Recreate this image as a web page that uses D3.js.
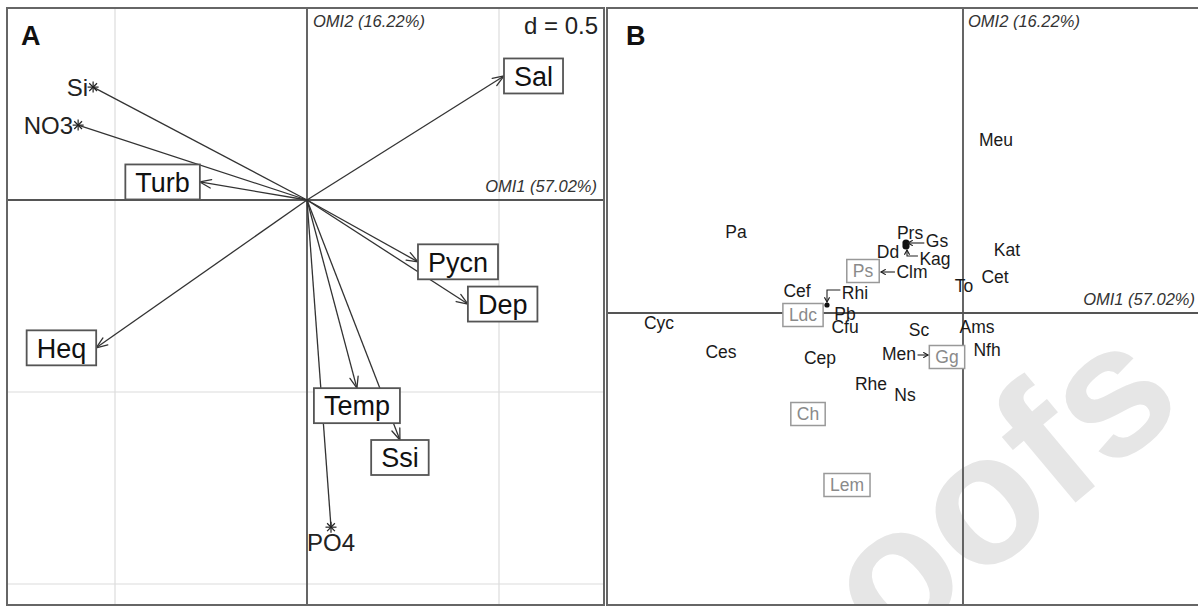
<!DOCTYPE html>
<html><head><meta charset="utf-8">
<script src="https://cdn.jsdelivr.net/npm/d3@7"></script>
<style>body{margin:0;background:#fff} svg{display:block;font-family:"Liberation Sans",Arial,sans-serif}</style>
</head><body><svg id="c" width="1198" height="606"></svg>
<script>
// ---------- Panel A data: environmental variable arrows (OMI1, OMI2) ----------
const envNames = ["Sal", "Turb", "Heq", "Pycn", "Dep", "Temp", "Ssi"];
const envX = [0.513, -0.279, -0.549, 0.289, 0.419, 0.130, 0.242];
const envY = [0.323, 0.047, -0.385, -0.161, -0.271, -0.490, -0.625];
// supplementary variables (star markers)
const supNames = ["Si", "NO3", "PO4"];
const supX = [-0.557, -0.596, 0.0625];
const supY = [0.294, 0.195, -0.852];
const gridStep = 0.5;
const axisLab1 = "OMI1 (57.02%)";
const axisLab2 = "OMI2 (16.22%)";

// ---------- Panel B data: species label positions ----------
const spNames = ["Meu","Pa","Prs","Gs","Dd","Kag","Clm","Cef","Rhi","Pb","Cfu","Sc","To","Ams","Men","Nfh","Cep","Rhe","Ns","Cyc","Ces","Kat","Cet"];
const spX = [0.33,-2.27,-0.53,-0.26,-0.75,-0.28,-0.51,-1.66,-1.08,-1.18,-1.18,-0.44,0.01,0.14,-0.64,0.24,-1.43,-0.92,-0.58,-3.04,-2.42,0.44,0.32];
const spY = [1.73,0.81,0.80,0.72,0.61,0.54,0.41,0.22,0.20,-0.01,-0.14,-0.17,0.27,-0.14,-0.41,-0.37,-0.45,-0.71,-0.82,-0.10,-0.39,0.63,0.36];
// grouped (grey boxed) labels
const grpNames = ["Ps","Ldc","Gg","Ch","Lem"];
const grpX = [-1.00,-1.60,-0.16,-1.55,-1.16];
const grpY = [0.42,-0.02,-0.44,-1.01,-1.72];
// points shown as dots
const dotX = [-0.57,-0.57,-1.36];
const dotY = [0.70,0.67,0.08];
const dotSize = [3.6,3.6,2.6];
// leader lines: from label to the point they refer to
const leadFrom = ["Gs","Kag","Clm","Rhi","Men"];
const leadToX = [-0.55,-0.56,-0.82,-1.36,-0.35];
const leadToY = [0.70,0.63,0.41,0.11,-0.42];
const leadKind = ["straight","elbow","straight","elbow","straight"];
const watermark = "oofs";

const svg = d3.select("#c");

// ---------- helper ----------
function arrowHead(g, x1, y1, x2, y2, len, ang, col, w) {
  const a = Math.atan2(y2 - y1, x2 - x1);
  [ang, -ang].forEach(s => {
    g.append("line").attr("x1", x2).attr("y1", y2)
      .attr("x2", x2 - len * Math.cos(a + s)).attr("y2", y2 - len * Math.sin(a + s))
      .attr("stroke", col).attr("stroke-width", w).attr("stroke-linecap","round");
  });
}

// ================= PANEL A =================
const A = {l: 7, t: 8, r: 604, b: 605};
const pxPerUnitA = 384;
const xA = d3.scaleLinear().domain([-(307 - A.l) / pxPerUnitA, (A.r - 307) / pxPerUnitA]).range([A.l, A.r]);
const yA = d3.scaleLinear().domain([(200 - A.t) / pxPerUnitA, -(A.b - 200) / pxPerUnitA]).range([A.t, A.b]);
const gA = svg.append("g");

// grid
const gxA = d3.range(-3, 3.01, gridStep).filter(v => v !== 0 && v > xA.domain()[0] && v < xA.domain()[1]);
const gyA = d3.range(-3, 3.01, gridStep).filter(v => v !== 0 && v < yA.domain()[0] && v > yA.domain()[1]);
gA.selectAll(".gx").data(gxA).join("line").attr("x1", d => xA(d)).attr("x2", d => xA(d))
  .attr("y1", A.t).attr("y2", A.b).attr("stroke", "#dcdcdc").attr("stroke-width", 1.2);
gA.selectAll(".gy").data(gyA).join("line").attr("y1", d => yA(d)).attr("y2", d => yA(d))
  .attr("x1", A.l).attr("x2", A.r).attr("stroke", "#dcdcdc").attr("stroke-width", 1.2);
// axes
gA.append("line").attr("x1", A.l).attr("x2", A.r).attr("y1", yA(0)).attr("y2", yA(0)).attr("stroke", "#555").attr("stroke-width", 1.8);
gA.append("line").attr("x1", xA(0)).attr("x2", xA(0)).attr("y1", A.t).attr("y2", A.b).attr("stroke", "#555").attr("stroke-width", 1.8);
// border
gA.append("rect").attr("x", A.l).attr("y", A.t).attr("width", A.r - A.l).attr("height", A.b - A.t)
  .attr("fill", "none").attr("stroke", "#666").attr("stroke-width", 2);

gA.append("text").attr("x", xA(0) + 6).attr("y", 27).attr("font-size", 16.5).attr("font-style", "italic")
  .attr("fill", "#333").text(axisLab2);
gA.append("text").attr("x", A.r - 7).attr("y", yA(0) - 8).attr("font-size", 16.5).attr("font-style", "italic")
  .attr("text-anchor", "end").attr("fill", "#333").text(axisLab1);
gA.append("text").attr("x", A.r - 6).attr("y", 34).attr("font-size", 24).attr("text-anchor", "end")
  .attr("fill", "#222").text("d = " + gridStep);
gA.append("text").attr("x", 21).attr("y", 45).attr("font-size", 27).attr("font-weight", "bold").attr("fill", "#111").text("A");

const ox = xA(0), oy = yA(0);
// env arrows
envNames.forEach((n, i) => {
  const tx = xA(envX[i]), ty = yA(envY[i]);
  gA.append("line").attr("x1", ox).attr("y1", oy).attr("x2", tx).attr("y2", ty).attr("stroke", "#333").attr("stroke-width", 1.3);
  arrowHead(gA, ox, oy, tx, ty, 12, 0.36, "#333", 1.3);
});
// sup arrows
supNames.forEach((n, i) => {
  const tx = xA(supX[i]), ty = yA(supY[i]);
  gA.append("line").attr("x1", ox).attr("y1", oy).attr("x2", tx).attr("y2", ty).attr("stroke", "#333").attr("stroke-width", 1.3);
});
// env labels in boxes adjacent to arrow tips
envNames.forEach((n, i) => {
  const tx = xA(envX[i]), ty = yA(envY[i]);
  const dx = tx - ox, dy = ty - oy;
  const t = gA.append("text").attr("font-size", 27).attr("fill", "#111").attr("text-anchor", "middle").text(n);
  const w = t.node().getComputedTextLength() + 20, h = 35;
  let cx, cy;
  if (Math.abs(dx) > Math.abs(dy)) { cy = ty; cx = dx > 0 ? tx + w / 2 : tx - w / 2; }
  else { cx = tx; cy = dy > 0 ? ty + h / 2 : ty - h / 2; }
  gA.insert("rect", function(){ return t.node(); }).attr("x", cx - w / 2).attr("y", cy - h / 2).attr("width", w).attr("height", h)
    .attr("fill", "#fff").attr("stroke", "#555").attr("stroke-width", 1.8);
  t.attr("x", cx).attr("y", cy).attr("dy", "0.36em");
});
// stars and their labels
supNames.forEach((n, i) => {
  const tx = xA(supX[i]), ty = yA(supY[i]);
  const r = 5.5;
  [0, 45, 90, 135].forEach(a => {
    const c = Math.cos(a * Math.PI / 180) * r, s = Math.sin(a * Math.PI / 180) * r;
    gA.append("line").attr("x1", tx - c).attr("y1", ty - s).attr("x2", tx + c).attr("y2", ty + s).attr("stroke", "#222").attr("stroke-width", 1.2);
  });
  const dx = tx - ox, dy = ty - oy;
  const t = gA.append("text").attr("font-size", 24).attr("fill", "#222").text(n);
  if (Math.abs(dx) > Math.abs(dy)) {
    t.attr("x", dx > 0 ? tx + 5 : tx - 5).attr("y", ty).attr("dy", "0.36em").attr("text-anchor", dx > 0 ? "start" : "end");
  } else {
    t.attr("x", tx).attr("y", dy > 0 ? ty + 24 : ty - 8).attr("text-anchor", "middle");
  }
});

// ================= PANEL B =================
const B = {l: 607, t: 8, r: 1200, b: 605};
const pxPerUnitB = 100;
const xB = d3.scaleLinear().domain([-(963 - B.l) / pxPerUnitB, (B.r - 963) / pxPerUnitB]).range([B.l, B.r]);
const yB = d3.scaleLinear().domain([(313 - B.t) / pxPerUnitB, -(B.b - 313) / pxPerUnitB]).range([B.t, B.b]);
const gB = svg.append("g");

// watermark (faint, behind the plot)
gB.append("text").attr("transform", "translate(889,659) rotate(-40)").attr("font-size", 185)
  .attr("font-weight", "bold").attr("fill", "#e6e6e6").text(watermark);

gB.append("line").attr("x1", B.l).attr("x2", B.r).attr("y1", yB(0)).attr("y2", yB(0)).attr("stroke", "#555").attr("stroke-width", 1.8);
gB.append("line").attr("x1", xB(0)).attr("x2", xB(0)).attr("y1", B.t).attr("y2", B.b).attr("stroke", "#555").attr("stroke-width", 1.8);
gB.append("rect").attr("x", B.l).attr("y", B.t).attr("width", B.r - B.l).attr("height", B.b - B.t)
  .attr("fill", "none").attr("stroke", "#666").attr("stroke-width", 2);

gB.append("text").attr("x", xB(0) + 5).attr("y", 27).attr("font-size", 16.5).attr("font-style", "italic")
  .attr("fill", "#333").text(axisLab2);
gB.append("text").attr("x", 1195).attr("y", yB(0) - 8).attr("font-size", 16.5).attr("font-style", "italic")
  .attr("text-anchor", "end").attr("fill", "#333").text(axisLab1);
gB.append("text").attr("x", 626).attr("y", 45).attr("font-size", 27).attr("font-weight", "bold").attr("fill", "#111").text("B");

// dots
gB.selectAll(".dot").data(dotX).join("circle").attr("cx", (d, i) => xB(d)).attr("cy", (d, i) => yB(dotY[i]))
  .attr("r", (d, i) => dotSize[i]).attr("fill", "#111");

// grey boxed group labels
grpNames.forEach((n, i) => {
  const cx = xB(grpX[i]), cy = yB(grpY[i]);
  const t = gB.append("text").attr("font-size", 17.5).attr("fill", "#8a8a8a").attr("text-anchor", "middle").text(n);
  const w = t.node().getComputedTextLength() + 12, h = 23;
  gB.insert("rect", function(){ return t.node(); }).attr("x", cx - w / 2).attr("y", cy - h / 2).attr("width", w).attr("height", h)
    .attr("fill", "#fff").attr("stroke", "#999").attr("stroke-width", 1.5);
  t.attr("x", cx).attr("y", cy).attr("dy", "0.36em");
});

// species labels
const spW = {};
spNames.forEach((n, i) => {
  const t = gB.append("text").attr("x", xB(spX[i])).attr("y", yB(spY[i])).attr("dy", "0.36em")
    .attr("font-size", 17.5).attr("fill", "#1a1a1a").attr("text-anchor", "middle").text(n);
  spW[n] = t.node().getComputedTextLength();
});

// leader lines
leadFrom.forEach((n, i) => {
  const k = spNames.indexOf(n);
  const lx = xB(spX[k]), ly = yB(spY[k]);
  const tx = xB(leadToX[i]), ty = yB(leadToY[i]);
  const sx = tx < lx ? lx - spW[n] / 2 - 1.5 : lx + spW[n] / 2 + 1.5;
  if (leadKind[i] === "straight") {
    gB.append("line").attr("x1", sx).attr("y1", ty).attr("x2", tx).attr("y2", ty).attr("stroke", "#222").attr("stroke-width", 1.1);
    arrowHead(gB, sx, ty, tx, ty, 5, 0.5, "#222", 1.1);
  } else {
    const ey = ly - 3;
    gB.append("path").attr("d", `M${sx},${ey}H${tx}V${ty}`).attr("fill", "none").attr("stroke", "#222").attr("stroke-width", 1.1);
    arrowHead(gB, tx, ey, tx, ty, 5, 0.5, "#222", 1.1);
  }
});
</script></body></html>
